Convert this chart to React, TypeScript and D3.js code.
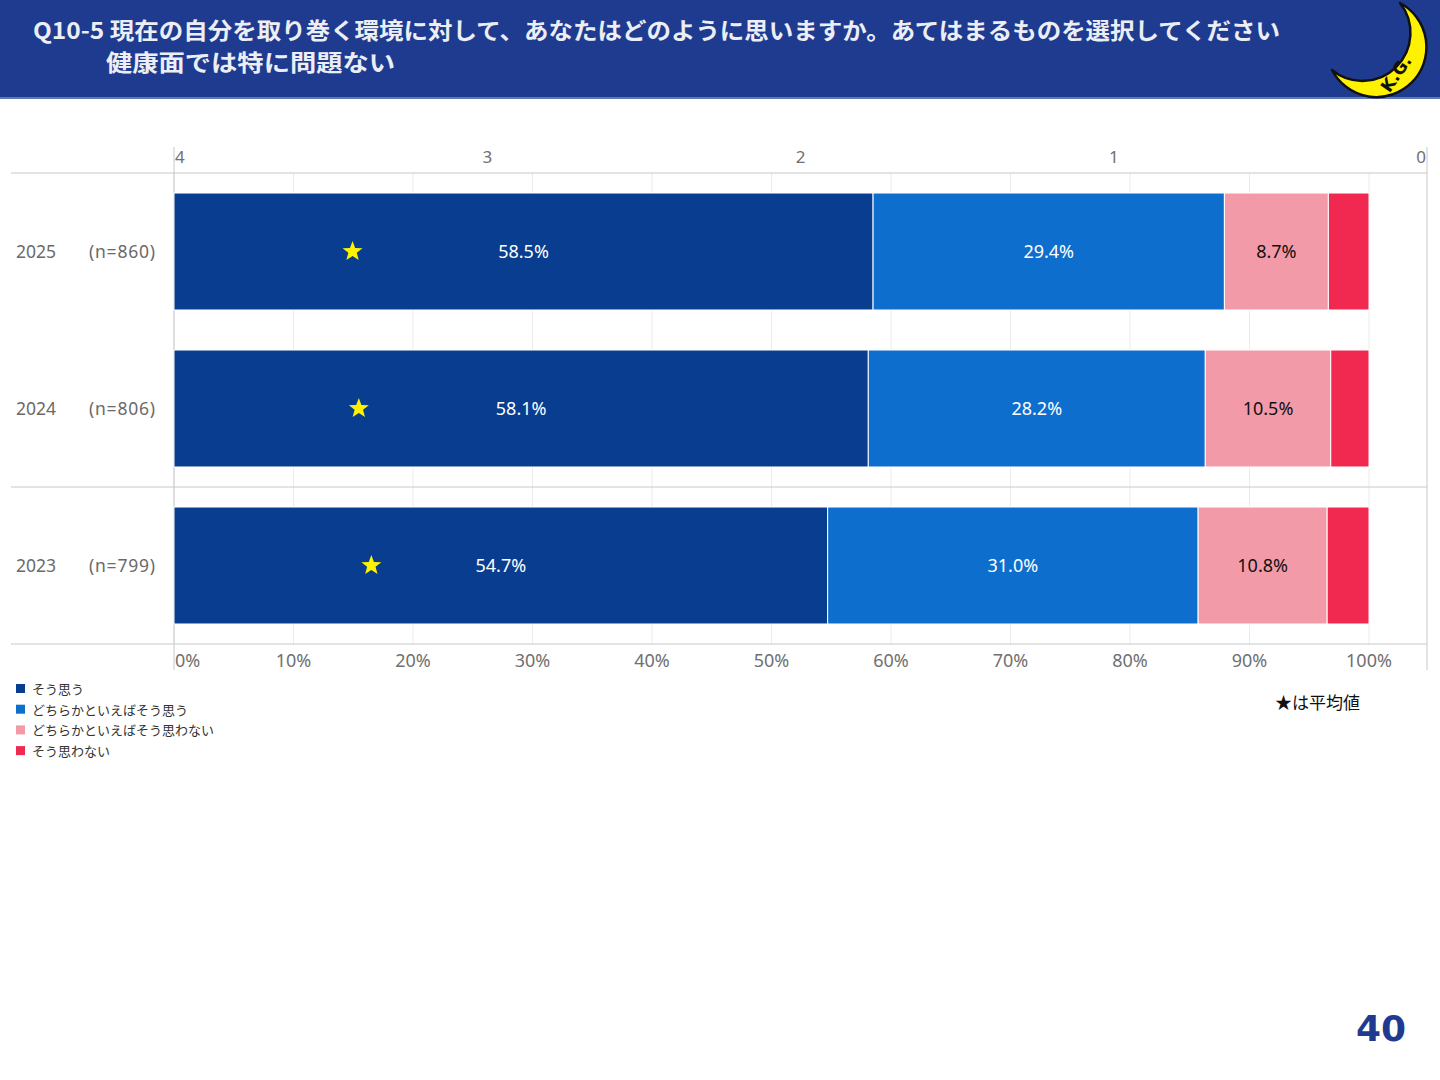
import * as d3 from "d3";

const years = ["2025", "2024", "2023"];
const sampleSizes = ["(n=860)", "(n=806)", "(n=799)"];
const categories = [
  "そう思う",
  "どちらかといえばそう思う",
  "どちらかといえばそう思わない",
  "そう思わない",
];
const agree = [58.5, 58.1, 54.7];
const ratherAgree = [29.4, 28.2, 31.0];
const ratherDisagree = [8.7, 10.5, 10.8];
const disagree = [3.4, 3.2, 3.5];
const averages = [3.43, 3.41, 3.37];
const avgTicks = [4, 3, 2, 1, 0];
const pctTicks = [0, 10, 20, 30, 40, 50, 60, 70, 80, 90, 100];

const colors = ["#083D8F", "#0E6ECD", "#F39AA8", "#F1284F"];
const labelColors = ["#ffffff", "#ffffff", "#111111", "#111111"];
const FONT = "'Noto Sans CJK JP', 'Noto Sans', sans-serif";
const NUM_FONT = "'Noto Sans', sans-serif";

function starPath(cx: number, cy: number, r: number) {
  const pts: [number, number][] = [];
  for (let i = 0; i < 10; i++) {
    const a = -Math.PI / 2 + (i * Math.PI) / 5;
    const rr = i % 2 === 0 ? r : r * 0.42;
    pts.push([cx + rr * Math.cos(a), cy + rr * Math.sin(a)]);
  }
  return d3.line()(pts) + "Z";
}

export default function App() {
  const W = 1440;
  const H = 1080;
  const left = 174;
  const right = 1427;
  const top = 173;
  const bottom = 644;

  const x = d3.scaleLinear().domain([0, 100]).range([left, 1369]);
  const xAvg = d3.scaleLinear().domain([4, 0]).range([left, right]);
  const y = d3
    .scaleBand<string>()
    .domain(years)
    .range([top, bottom])
    .paddingInner(0.255)
    .paddingOuter(0.1275);
  const step = y.step();

  const series = [agree, ratherAgree, ratherDisagree, disagree];
  const rows = years.map((yr, i) => {
    const vals = series.map((s) => s[i]);
    const stack = d3.cumsum(vals);
    return vals.map((v, k) => ({
      year: yr,
      k,
      v,
      x0: stack[k] - v,
      x1: stack[k],
    }));
  });

  return (
    <svg
      width={W}
      height={H}
      style={{ position: "absolute", left: 0, top: 0, background: "#fff" }}
      fontFamily={FONT}
    >
      {/* header */}
      <rect x={0} y={0} width={W} height={98} fill="#1F3B8F" />
      <rect x={0} y={97} width={W} height={2} fill="#5C7BB8" />
      <text
        x={33}
        y={39}
        fill="#ECEEF5"
        fontSize={23}
        fontWeight={700}
        textLength={1247}
        lengthAdjust="spacingAndGlyphs"
      >
        Q10-5 現在の自分を取り巻く環境に対して、あなたはどのように思いますか。あてはまるものを選択してください
      </text>
      <text
        x={106}
        y={71}
        fill="#ECEEF5"
        fontSize={23}
        fontWeight={700}
        textLength={289}
        lengthAdjust="spacingAndGlyphs"
      >
        健康面では特に問題ない
      </text>
      {/* moon logo */}
      <path
        d="M1400,3 A50,50 0 1 1 1332,70 A48,48 0 0 0 1400,3 Z"
        fill="#FFF200"
        stroke="#111"
        strokeWidth={2.5}
        strokeLinejoin="round"
      />
      <text
        x={1401}
        y={77}
        fontSize={17}
        fontWeight={700}
        fill="#111"
        fontFamily="'DejaVu Sans', sans-serif"
        textAnchor="middle"
        transform="rotate(-55 1401 77)"
      >
        K.G.
      </text>

      {/* grid */}
      {pctTicks.map((t) => (
        <line
          key={"g" + t}
          x1={x(t)}
          x2={x(t)}
          y1={top}
          y2={bottom}
          stroke="#EBEBEB"
          strokeWidth={1}
        />
      ))}
      <line x1={left} x2={left} y1={147} y2={670} stroke="#C8C8C8" />
      <line x1={right} x2={right} y1={147} y2={670} stroke="#C8C8C8" />
      {[top, (y("2023") as number) - (step - y.bandwidth()) / 2, bottom].map((yy, i) => (
        <line key={"h" + i} x1={11} x2={right} y1={yy} y2={yy} stroke="#C8C8C8" />
      ))}

      {/* top axis (average scale) */}
      {avgTicks.map((t, i) => (
        <text
          key={"a" + t}
          x={i === 0 ? xAvg(t) + 1 : i === avgTicks.length - 1 ? xAvg(t) - 1 : xAvg(t)}
          y={163}
          fontSize={17}
          fill="#707070"
          fontFamily={NUM_FONT}
          textAnchor={i === 0 ? "start" : i === avgTicks.length - 1 ? "end" : "middle"}
        >
          {t}
        </text>
      ))}

      {/* bottom axis */}
      {pctTicks.map((t, i) => (
        <text
          key={"p" + t}
          x={i === 0 ? x(t) + 1 : x(t)}
          y={667}
          fontSize={18}
          fill="#707070"
          fontFamily={NUM_FONT}
          textAnchor={i === 0 ? "start" : "middle"}
        >
          {t}%
        </text>
      ))}

      {/* row labels */}
      {years.map((yr, i) => {
        const cy = (y(yr) as number) + y.bandwidth() / 2;
        return (
          <g key={"r" + yr} fontSize={17.5} fill="#6A6A6A" fontFamily={NUM_FONT}>
            <text x={16} y={cy + 6}>
              {yr}
            </text>
            <text x={89} y={cy + 6} textLength={66} lengthAdjust="spacing">
              {sampleSizes[i]}
            </text>
          </g>
        );
      })}

      {/* bars */}
      {rows.map((segs) =>
        segs.map((s) => {
          const by = y(s.year) as number;
          const bx = x(s.x0);
          const bw = x(s.x1) - x(s.x0);
          return (
            <g key={s.year + s.k}>
              <rect
                x={bx}
                y={by}
                width={bw}
                height={y.bandwidth()}
                fill={colors[s.k]}
                stroke="#fff"
                strokeWidth={1}
              />
              {s.k < 3 && (
                <text
                  x={bx + bw / 2}
                  y={by + y.bandwidth() / 2 + 6}
                  fontSize={18}
                  fill={labelColors[s.k]}
                  fontFamily={NUM_FONT}
                  textAnchor="middle"
                >
                  {s.v.toFixed(1)}%
                </text>
              )}
            </g>
          );
        })
      )}

      {/* average stars */}
      {years.map((yr, i) => (
        <path
          key={"s" + yr}
          d={starPath(xAvg(averages[i]), (y(yr) as number) + y.bandwidth() / 2, 10.5)}
          fill="#FFF200"
        />
      ))}

      {/* legend */}
      {categories.map((c, i) => (
        <g key={"l" + i}>
          <rect x={16} y={684 + i * 20.7} width={9} height={9} fill={colors[i]} />
          <text x={32} y={694 + i * 20.7} fontSize={13} fill="#333">
            {c}
          </text>
        </g>
      ))}

      <text x={1275} y={709} fontSize={17} fill="#111">
        ★は平均値
      </text>

      <text
        x={1406}
        y={1041}
        fontSize={36}
        fontWeight={700}
        fill="#1F3B8F"
        textAnchor="end"
        fontFamily="'DejaVu Sans', sans-serif"
      >
        40
      </text>
    </svg>
  );
}
